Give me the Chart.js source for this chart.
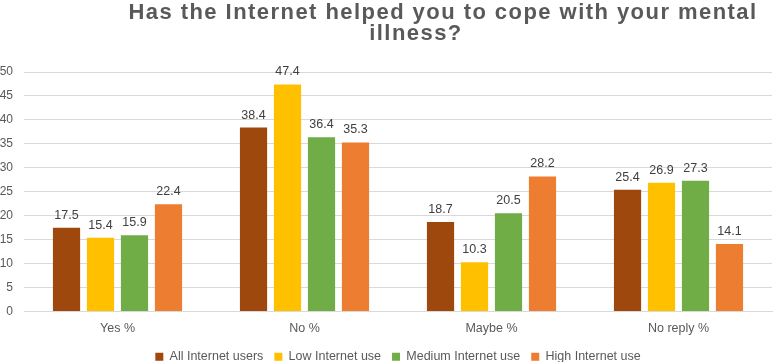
<!DOCTYPE html>
<html><head><meta charset="utf-8">
<script src="https://cdn.jsdelivr.net/npm/chart.js@4"></script>
<style>html,body{margin:0;padding:0;background:#fff}#wrap{width:778px;height:362px}</style>
</head><body><div id="wrap"><canvas id="c" width="778" height="362"></canvas></div>
<script>
const categories = ["Yes %", "No %", "Maybe %", "No reply %"];
const allUsers = [17.5, 38.4, 18.7, 25.4];
const lowUse = [15.4, 47.4, 10.3, 26.9];
const mediumUse = [15.9, 36.4, 20.5, 27.3];
const highUse = [22.4, 35.3, 28.2, 14.1];
const seriesNames = ["All Internet users", "Low Internet use", "Medium Internet use", "High Internet use"];
const yTicks = [0, 5, 10, 15, 20, 25, 30, 35, 40, 45, 50];
const titleLines = ["Has the Internet helped you to cope with your mental", "illness?"];
const colors = ["#9E480E", "#FFC000", "#70AD47", "#ED7D31"];

const FONT = "'Liberation Sans', Arial, sans-serif";

const titlePlugin = {
  id: 'customTitle',
  afterDraw(chart) {
    const ctx = chart.ctx;
    ctx.save();
    ctx.font = "bold 22px " + FONT;
    if ('letterSpacing' in ctx) ctx.letterSpacing = "1.45px";
    ctx.fillStyle = "#595959";
    ctx.textAlign = "center";
    ctx.textBaseline = "alphabetic";
    ctx.fillText(titleLines[0], 443, 19);
    ctx.fillText(titleLines[1], 416, 40);
    ctx.restore();
  }
};

const labelPlugin = {
  id: 'valueLabels',
  afterDatasetsDraw(chart) {
    const ctx = chart.ctx;
    ctx.save();
    ctx.font = "12.5px " + FONT;
    ctx.fillStyle = "#404040";
    ctx.textAlign = "center";
    ctx.textBaseline = "alphabetic";
    chart.data.datasets.forEach((ds, i) => {
      const meta = chart.getDatasetMeta(i);
      meta.data.forEach((bar, j) => {
        ctx.fillText(ds.data[j].toFixed(1), bar.x, bar.y - 9);
      });
    });
    ctx.restore();
  }
};

const seriesData = [allUsers, lowUse, mediumUse, highUse];

new Chart(document.getElementById('c'), {
  type: 'bar',
  data: {
    labels: categories,
    datasets: seriesData.map((d, i) => ({
      label: seriesNames[i],
      data: d,
      backgroundColor: colors[i],
      borderWidth: 0,
      categoryPercentage: 0.727,
      barPercentage: 0.8
    }))
  },
  options: {
    responsive: false,
    animation: false,
    devicePixelRatio: 1,
    layout: { padding: { top: 72, left: 0, right: 6, bottom: -11 } },
    plugins: {
      title: { display: false },
      tooltip: { enabled: false },
      legend: {
        position: 'bottom',
        fullSize: false,
        labels: {
          boxWidth: 8, boxHeight: 8, padding: 11,
          color: "#595959",
          font: { size: 12.5, family: FONT }
        }
      }
    },
    scales: {
      x: {
        afterFit(axis) { axis.height = 28; },
        grid: { display: false, tickLength: 0 },
        border: { display: true, color: "#d9d9d9" },
        ticks: { color: "#595959", font: { size: 12.5, family: FONT }, padding: 10 }
      },
      y: {
        min: 0, max: 50,
        afterFit(axis) { axis.width = 24; },
        afterBuildTicks(axis) { axis.ticks = yTicks.map(v => ({ value: v })); },
        grid: { color: "#d9d9d9", drawTicks: false },
        border: { display: false },
        ticks: { color: "#595959", font: { size: 12, family: FONT }, padding: 11 }
      }
    }
  },
  plugins: [titlePlugin, labelPlugin]
});
</script></body></html>
